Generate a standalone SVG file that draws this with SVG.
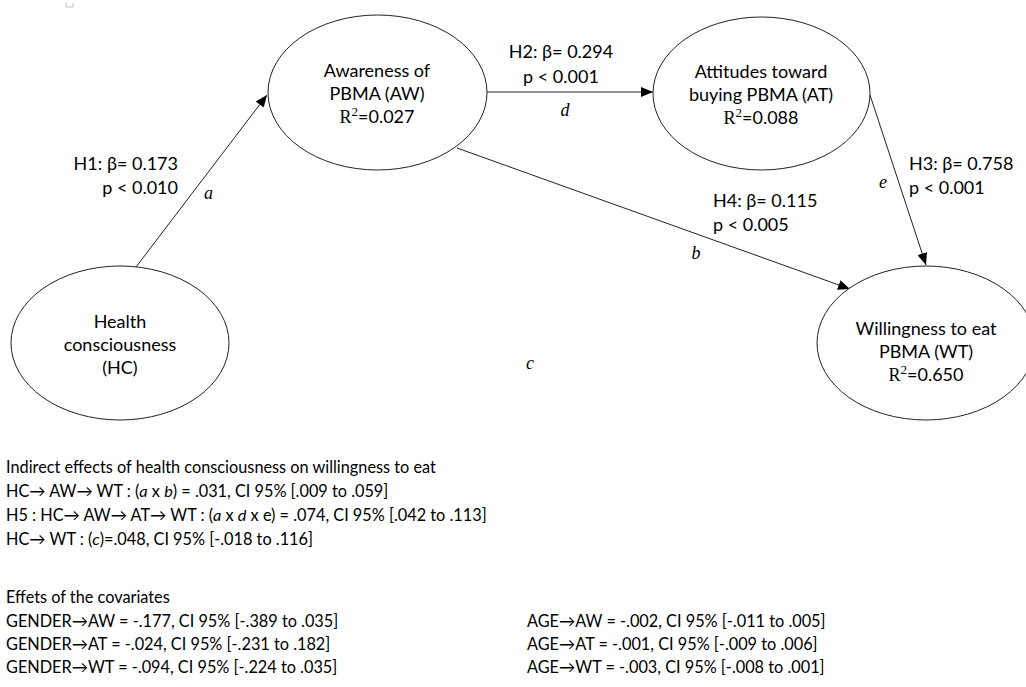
<svg xmlns="http://www.w3.org/2000/svg" width="1026" height="687" viewBox="0 0 1026 687">
<style>
text{font-family:Lato,"Open Sans","Liberation Sans",sans-serif;font-size:18px;fill:#000}
.c{text-anchor:middle}
.e{text-anchor:end}
.s{font-family:"Liberation Serif","DejaVu Serif",serif}
.sup{font-family:"Liberation Serif",serif;font-size:13px}
.lbl{font-family:"Liberation Serif","DejaVu Serif",serif;font-style:italic;font-size:18px}
.i{font-style:italic}
.n{font-size:16.3px}
ellipse{fill:#fff;stroke:#222;stroke-width:1}
.edge{stroke:#222;stroke-width:1;fill:none;marker-end:url(#ah)}
</style>
<defs>
<marker id="ah" viewBox="0 0 12 10" refX="12" refY="5" markerWidth="12" markerHeight="10" markerUnits="userSpaceOnUse" orient="auto">
<path d="M0,0 L12,5 L0,10 z" fill="#000"/>
</marker>
</defs>
<rect width="1026" height="687" fill="#fff"/>
<polyline points="66,3 66,7 73,7 73,3" fill="none" stroke="#bbb" stroke-width="1"/>
<g id="connectors">
<line class="edge" x1="136" y1="267" x2="267" y2="95"/>
<line class="edge" x1="487" y1="92" x2="653" y2="92"/>
<line class="edge" x1="457" y1="148" x2="850" y2="289"/>
<line class="edge" x1="870" y1="95" x2="926" y2="265"/>
<text x="178" y="170" class="e">H1: β= 0.173</text>
<text x="178" y="194" class="e">p &lt; 0.010</text>
<text x="204" y="199" class="lbl">a</text>
<text x="561" y="58" class="c">H2: β= 0.294</text>
<text x="561" y="83" class="c">p &lt; 0.001</text>
<text x="565" y="116" class="lbl c">d</text>
<text x="909" y="170">H3: β= 0.758</text>
<text x="909" y="194">p &lt; 0.001</text>
<text x="883" y="188" class="lbl c">e</text>
<text x="713" y="207">H4: β= 0.115</text>
<text x="713" y="231">p &lt; 0.005</text>
<text x="696" y="259" class="lbl c">b</text>
<text x="530" y="369" class="lbl c">c</text>
</g>
<g id="node-aw">
<ellipse cx="377.5" cy="92.5" rx="109.5" ry="77.5"/>
<text x="377" y="77" class="c">Awareness of</text>
<text x="377" y="100" class="c">PBMA (AW)</text>
<text x="377" y="123" class="c"><tspan class="s">R</tspan><tspan class="sup" dy="-7">2</tspan><tspan dy="7">=0.027</tspan></text>
</g>
<g id="node-at">
<ellipse cx="761.5" cy="93.5" rx="108.5" ry="76.5"/>
<text x="761" y="78" class="c">Attitudes toward</text>
<text x="761" y="101" class="c">buying PBMA (AT)</text>
<text x="761" y="124" class="c"><tspan class="s">R</tspan><tspan class="sup" dy="-7">2</tspan><tspan dy="7">=0.088</tspan></text>
</g>
<g id="node-hc">
<ellipse cx="120" cy="343" rx="109" ry="77"/>
<text x="120" y="328" class="c">Health</text>
<text x="120" y="351" class="c">consciousness</text>
<text x="120" y="374" class="c">(HC)</text>
</g>
<g id="node-wt">
<ellipse cx="926" cy="343" rx="109" ry="77"/>
<text x="926" y="335" class="c">Willingness to eat</text>
<text x="926" y="358" class="c">PBMA (WT)</text>
<text x="926" y="381" class="c"><tspan class="s">R</tspan><tspan class="sup" dy="-7">2</tspan><tspan dy="7">=0.650</tspan></text>
</g>
<g id="notes">
<text class="n" x="6" y="473">Indirect effects of health consciousness on willingness to eat</text>
<text class="n" x="6" y="497">HC→ AW→ WT : (<tspan class="i">a</tspan> x <tspan class="i">b</tspan>) = .031, CI 95% [.009 to .059]</text>
<text class="n" x="6" y="521">H5 : HC→ AW→ AT→ WT : (<tspan class="i">a</tspan> x <tspan class="i">d</tspan> x e) = .074, CI 95% [.042 to .113]</text>
<text class="n" x="6" y="545">HC→ WT : (<tspan class="i">c</tspan>)=.048, CI 95% [-.018 to .116]</text>
<text class="n" x="6" y="603">Effets of the covariates</text>
<text class="n" x="6" y="627">GENDER→AW = -.177, CI 95% [-.389 to .035]</text>
<text class="n" x="6" y="650">GENDER→AT = -.024, CI 95% [-.231 to .182]</text>
<text class="n" x="6" y="673">GENDER→WT = -.094, CI 95% [-.224 to .035]</text>
<text class="n" x="527" y="627">AGE→AW = -.002, CI 95% [-.011 to .005]</text>
<text class="n" x="527" y="650">AGE→AT = -.001, CI 95% [-.009 to .006]</text>
<text class="n" x="527" y="673">AGE→WT = -.003, CI 95% [-.008 to .001]</text>
</g>
</svg>
